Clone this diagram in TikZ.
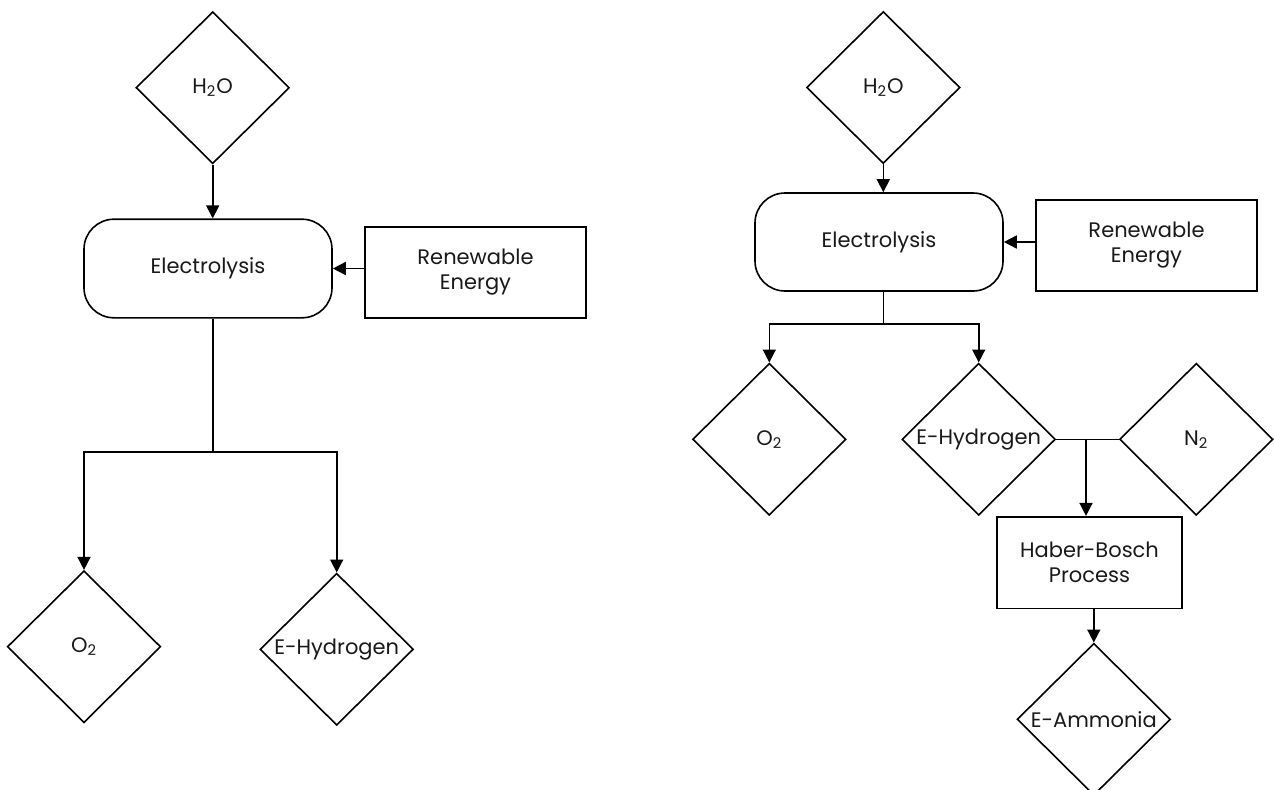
\documentclass[tikz,border=0pt]{standalone}
\usepackage{fontspec}
\setmainfont{Poppins}
\usetikzlibrary{shapes.geometric,arrows.meta}
\begin{document}
\begin{tikzpicture}[x=0.5pt,y=-0.5pt,
  every node/.style={font=\fontsize{10.5}{12.5}\selectfont, align=center, text=black!90},
  dia/.style={draw, diamond, aspect=1, inner sep=0pt, minimum width=76.7pt, minimum height=76pt, line width=0.8pt},
  rbox/.style={draw, rectangle, rounded corners=15pt, line width=0.8pt, minimum width=124pt, minimum height=49.3pt},
  sbox/.style={draw, rectangle, line width=0.8pt, minimum width=110.5pt, minimum height=45.5pt},
  link/.style={line width=0.8pt},
  arr/.style={line width=0.8pt, -{Triangle[length=6.5pt,width=6.5pt]}}]
\path[use as bounding box, clip] (0,0) rectangle (1274,789);
% ---------- left diagram ----------
\node[dia] (h2oL) at (212.7,87.7) {H\textsubscript{2}O};
\node[rbox] (elecL) at (208,268.5) {Electrolysis};
\node[sbox] (renL) at (475.5,272.3) {Renewable\\Energy};
\node[dia] (o2L) at (84,646.7) {O\textsubscript{2}};
\node[dia] (ehL) at (336.7,649.3) {E-Hydrogen};
\coordinate (jL) at (212.7,451.7);
\draw[arr] (h2oL.south) -- (h2oL.south |- elecL.north);
\draw[arr] (renL.west |- elecL.east) -- (elecL.east);
\draw[link] (h2oL.south |- elecL.south) -- (jL);
\draw[arr] (jL) -| (o2L.north);
\draw[arr] (jL) -| (ehL.north);
% ---------- right diagram ----------
\node[dia] (h2oR) at (883.3,87.5) {H\textsubscript{2}O};
\node[rbox, minimum height=49pt] (elecR) at (879,242) {Electrolysis};
\node[sbox] (renR) at (1146.5,245.5) {Renewable\\Energy};
\node[dia] (o2R) at (769.3,439.3) {O\textsubscript{2}};
\node[dia] (ehR) at (978.7,439.3) {E-Hydrogen};
\node[dia] (n2R) at (1196.3,439.3) {N\textsubscript{2}};
\node[sbox, minimum width=92.5pt, minimum height=45.8pt] (hbR) at (1089.5,562.5) {Haber-Bosch\\Process};
\node[dia] (eaR) at (1093.8,719.3) {E-Ammonia};
\coordinate (jR) at (883.3,324);
\coordinate (j2R) at (1086,439.3);
\draw[arr] (h2oR.south) -- (h2oR.south |- elecR.north);
\draw[arr] (renR.west |- elecR.east) -- (elecR.east);
\draw[link] (h2oR.south |- elecR.south) -- (jR);
\draw[arr] (jR) -| (o2R.north);
\draw[arr] (jR) -| (ehR.north);
\draw[link] (ehR.east) -- (n2R.west);
\draw[arr] (j2R) -- (j2R |- hbR.north);
\draw[arr] (eaR.north |- hbR.south) -- (eaR.north);
\end{tikzpicture}
\end{document}
